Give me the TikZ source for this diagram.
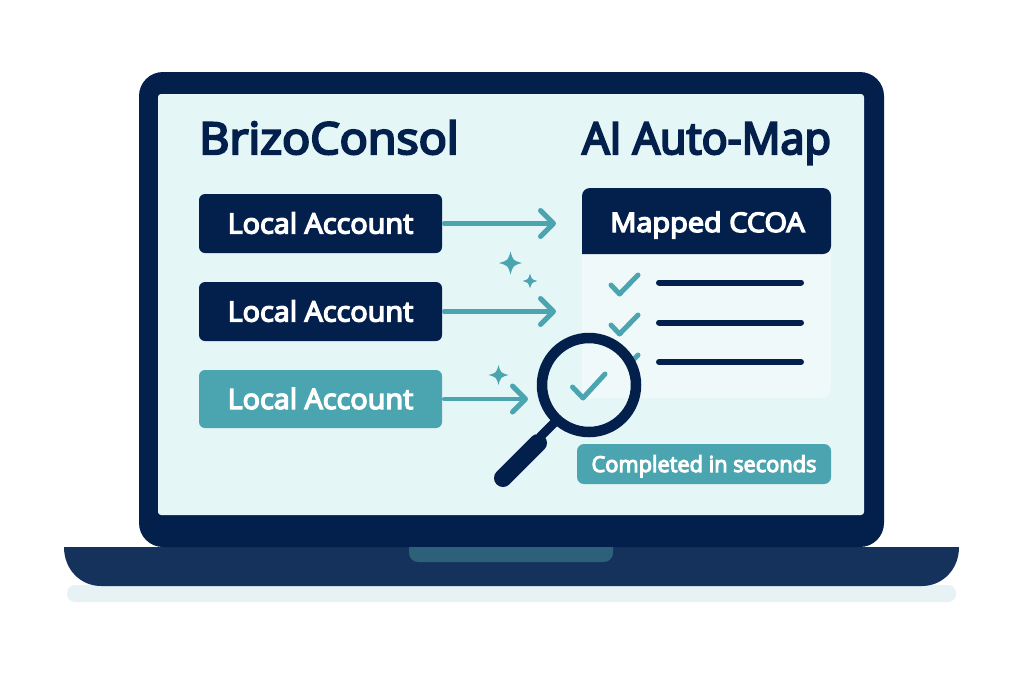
\documentclass[tikz,border=0pt]{standalone}
\usepackage{fontspec}
\usepackage{graphicx}
\usetikzlibrary{arrows.meta}
\setmainfont{Open Sans}[BoldFont={Open Sans},BoldFeatures={FakeBold=5}]
\definecolor{navy}{HTML}{03204D}
\definecolor{basecol}{HTML}{14325C}
\definecolor{notchcol}{HTML}{2D6079}
\definecolor{teal}{HTML}{4BA5B0}
\definecolor{screen}{HTML}{E5F6F7}
\definecolor{cardcol}{HTML}{EFF9FA}
\definecolor{shadowcol}{HTML}{E6F2F4}
\tikzset{
  acctbox/.style={rounded corners=6pt,minimum width=243pt,minimum height=59pt,inner sep=0pt,text=white,
    font=\bfseries\fontsize{28}{32}\selectfont,text height=20pt,text depth=0pt,align=center},
  flow/.style={draw=teal,line width=4.5pt,shorten <=2pt,line cap=round,line join=round,-{Straight Barb[length=13pt,width=26pt,line width=5pt,round]}},
  tick/.style={draw=teal,line width=5pt,line cap=round,line join=round},
  rowline/.style={draw=navy,line width=6pt,line cap=round},
  titletext/.style={text=navy,inner sep=0pt,anchor=base west,font=\bfseries\fontsize{44}{50}\selectfont},
  pics/spark/.style={code={\fill[teal] (0,-1) .. controls (.22,-.22) .. (1,0) .. controls (.22,.22) .. (0,1) .. controls (-.22,.22) .. (-1,0) .. controls (-.22,-.22) .. (0,-1) -- cycle;}}
}
\begin{document}
\begin{tikzpicture}[x=1pt,y=-1pt]
\useasboundingbox (0,0) rectangle (1024,683);
\fill[white] (0,0) rectangle (1024,683);
% shadow
\fill[shadowcol,rounded corners=8pt] (67,585) rectangle (956,602);
% base
\fill[basecol] (64,547) -- (959,547) .. controls (959,570) and (942,586) .. (922,586) -- (101,586) .. controls (81,586) and (64,570) .. (64,547) -- cycle;
% lid
\fill[navy,rounded corners=24pt] (139,72) rectangle (884,547);
\fill[notchcol,rounded corners=9pt] (409,535) rectangle (613,562);
\fill[navy] (400,530) rectangle (620,547);
% screen
\fill[screen,rounded corners=3pt] (158,94) rectangle (864,515);
% titles
\node[titletext] (title1) at (199,154) {\scalebox{1.06}[1]{BrizoConsol}};
\node[titletext] (title2) at (582,154) {\scalebox{0.98}[1]{AI Auto-Map}};
% card
\fill[cardcol,rounded corners=9pt] (582,240) rectangle (831,398);
\fill[navy,rounded corners=8pt] (582,254) -- (582,188) -- (831,188) -- (831,254) [sharp corners] -- cycle;
\node[inner sep=0pt,text=white,anchor=base,font=\bfseries\fontsize{27}{32}\selectfont] (hdr) at (707.5,232) {\scalebox{1.07}[1]{Mapped CCOA}};
\draw[rowline] (659,282.5) -- (801,282.5);
\draw[rowline] (659,322.5) -- (801,322.5);
\draw[rowline] (659,362) -- (801,362);
\draw[tick] (611,285) -- (619.5,294) -- (638,275);
\draw[tick] (611,325) -- (619.5,334) -- (638,315);
\draw[tick] (611,365) -- (619.5,374) -- (638,355);
% account boxes
\node[acctbox,fill=navy] (a1) at (320.5,223.5) {\scalebox{1.03}[1]{Local Account}};
\node[acctbox,fill=navy] (a2) at (320.5,311.5) {\scalebox{1.03}[1]{Local Account}};
\node[acctbox,fill=teal,minimum height=58pt] (a3) at (320.5,399) {\scalebox{1.03}[1]{Local Account}};
\coordinate (e1) at (556,223.5);
\coordinate (e2) at (556,311.5);
\coordinate (e3) at (528,399);
\draw[flow] (a1.east) -- (e1);
\draw[flow] (a2.east) -- (e2);
\draw[flow] (a3.east) -- (e3);
% sparkles
\pic[scale=11.5] at (510.5,263) {spark};
\pic[scale=7.5] at (530,281) {spark};
\pic[scale=10] at (498.5,375) {spark};
% magnifier
\begin{scope}
\clip (589,385) circle[radius=47pt];
\fill[screen] (530,330) rectangle (650,440);
\fill[cardcol,rounded corners=9pt] (582,300) rectangle (831,398);
\end{scope}
\draw[tick,line width=5pt] (572.5,387) -- (583,398) -- (605,374);
\draw[navy,line width=9pt] (556,421) -- (540,437);
\draw[navy,line width=18pt,line cap=round] (538,443) -- (503,478);
\draw[navy,line width=10.5pt] (589,385) circle[radius=47pt];
% badge
\node[fill=teal,rounded corners=7pt,minimum width=254pt,minimum height=40pt,inner sep=0pt,text=white,
  font=\bfseries\fontsize{22}{26}\selectfont,text height=16pt,text depth=0pt] (badge) at (704,464) {\scalebox{0.99}[1]{Completed in seconds}};
\end{tikzpicture}
\end{document}
